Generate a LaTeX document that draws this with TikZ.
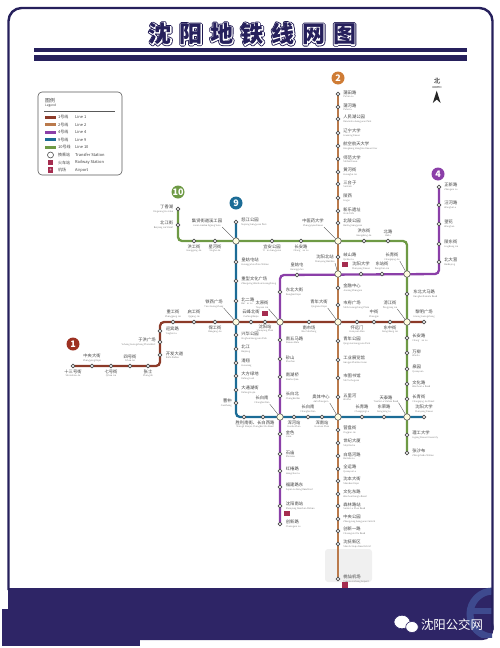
\documentclass[tikz,border=0pt]{standalone}
\usepackage{fontspec}
\usetikzlibrary{arrows.meta,positioning,backgrounds,shapes.geometric}
\setmainfont{Noto Sans CJK SC}
\newfontfamily\titlefont[LetterSpace=33.5]{Noto Sans CJK SC}
\definecolor{mapNavy}{RGB}{38,32,92}
\definecolor{mapBand}{RGB}{46,37,102}
\definecolor{mapLogo}{RGB}{62,74,142}
\definecolor{mapOne}{RGB}{140,58,40}
\definecolor{mapTwo}{RGB}{186,122,76}
\definecolor{mapFour}{RGB}{139,63,168}
\definecolor{mapNine}{RGB}{28,108,150}
\definecolor{mapTen}{RGB}{110,154,69}
\definecolor{mapIcon}{RGB}{165,45,80}
\newcommand{\stnt}[2]{#1\\[-1.5pt]{\fontsize{2.3}{2.6}\selectfont\color{black!50}#2}}
\newcommand{\ttlglyphs}[1]{\rlap{\special{pdf:code 1 Tr 3.4 w 1 j 0.12 0.1 0.32 RG}#1\special{pdf:code 0 Tr 0 G}}\rlap{\special{pdf:code 1 Tr 1.7 w 1 j 1 1 1 RG}#1\special{pdf:code 0 Tr 0 G}}#1}
\begin{document}
\begin{tikzpicture}[x=1pt,y=-1pt,
    stn/.style={draw=black!70,fill=white,circle,line width=0.6pt,inner sep=0pt,minimum size=3.8pt},
    hub/.style={draw=black!65,fill=yellow!12,circle,line width=0.6pt,inner sep=0pt,minimum size=6.5pt},
    lab/.style={inner sep=0pt,text=black!75,font=\fontsize{4.3}{5}\selectfont,align=center},
    lbr/.style={lab,align=left},
    lbl/.style={lab,align=right},
    badge/.style={circle,inner sep=0pt,minimum size=13pt,text=white,font=\fontsize{9}{9}\selectfont\bfseries},
    icon/.style={fill=mapIcon,inner sep=0pt,minimum size=5.5pt},
    swatch/.style={inner sep=0pt,minimum width=11pt,minimum height=3pt},
    leg/.style={inner sep=0pt,anchor=west,text=black!75,font=\fontsize{4}{5}\selectfont},
    feed/.style={draw=black!70,line width=0.35pt},
    metro/.style={line width=2.3pt,rounded corners=4pt}]
    \useasboundingbox (0,0) rectangle (500,648);
    % Title
    \node[inner sep=0pt,text=mapNavy,font=\titlefont\fontsize{23}{23}\selectfont\bfseries] at (252.5,34) (title) {\ttlglyphs{沈阳地铁线网图}};
    \node[fill=mapNavy,inner sep=0pt,minimum width=433pt,minimum height=4pt] at (250.5,50) (ruleA) {};
    \node[fill=mapNavy,inner sep=0pt,minimum width=433pt,minimum height=6pt] at (250.5,58) (ruleB) {};
    % Legend
    \node[draw=black!65,rounded corners=4pt,line width=0.6pt,inner sep=0pt,minimum width=84pt,minimum height=83pt] at (80,133.5) (legendBox) {};
    \node[leg,font=\fontsize{5}{6}\selectfont] at (45,100.5) (legendZh) {图例};
    \node[leg,font=\fontsize{3.2}{4}\selectfont] at (45,106) (legendEn) {Legend};
    \coordinate (ruleL) at (44,111);
    \coordinate (ruleR) at (115,111);
    \node[swatch,fill=mapOne] at (50.5,117) (swOne) {};
    \node[swatch,fill=mapTwo] at (50.5,124.5) (swTwo) {};
    \node[swatch,fill=mapFour] at (50.5,132) (swFour) {};
    \node[swatch,fill=mapNine] at (50.5,139.5) (swNine) {};
    \node[swatch,fill=mapTen] at (50.5,147) (swTen) {};
    \node[stn,minimum size=6pt] at (50.5,155) (swHub) {};
    \node[icon] at (50.5,162.5) (swRail) {};
    \node[icon] at (50.5,170) (swAir) {\textcolor{white}{\fontsize{4.5}{4}\selectfont +}};
    \node[leg] at (58,117) (zhOne) {1号线};
    \node[leg] at (58,124.5) (zhTwo) {2号线};
    \node[leg] at (58,132) (zhFour) {4号线};
    \node[leg] at (58,139.5) (zhNine) {9号线};
    \node[leg] at (58,147) (zhTen) {10号线};
    \node[leg] at (58,155) (zhHub) {换乘站};
    \node[leg] at (58,162.5) (zhRail) {火车站};
    \node[leg] at (58,170) (zhAir) {机场};
    \node[leg] at (75,117) (enOne) {Line 1};
    \node[leg] at (75,124.5) (enTwo) {Line 2};
    \node[leg] at (75,132) (enFour) {Line 4};
    \node[leg] at (75,139.5) (enNine) {Line 9};
    \node[leg] at (75,147) (enTen) {Line 10};
    \node[leg] at (75,155) (enHub) {Transfer Station};
    \node[leg] at (75,162.5) (enRail) {Railway Station};
    \node[leg] at (75,170) (enAir) {Airport};
    % North arrow
    \node[inner sep=0pt,font=\fontsize{6.5}{7}\selectfont] at (437,81) (northZh) {北};
    \node[inner sep=0pt,font=\fontsize{2.6}{3}\selectfont] at (437,87.5) (northEn) {NORTH};
    \coordinate (tipN) at (436.7,90.7);
    \coordinate (tipL) at (432.8,103);
    \coordinate (tipM) at (436.7,99.5);
    \coordinate (tipR) at (440.6,103);
    \fill[black!85] (tipN) -- (tipR) -- (tipM) -- (tipL) -- cycle;
    % Line badges
    \node[badge,fill=mapOne!85!red] at (73,344) (badgeOne) {1};
    \node[badge,fill=mapTwo!70!orange] at (338,78) (badgeTwo) {2};
    \node[badge,fill=mapFour] at (438,174) (badgeFour) {4};
    \node[badge,fill=mapNine] at (236,203) (badgeNine) {9};
    \node[badge,fill=mapTen] at (178,192) (badgeTen) {10};
    % Interchanges
    \node[hub] at (236,241) (hubA) {};
    \node[hub] at (338,241) (hubB) {};
    \node[hub] at (338,274) (hubC) {};
    \node[hub] at (407,274) (hubD) {};
    \node[hub] at (236,322) (hubE) {};
    \node[hub] at (280,322) (hubF) {};
    \node[hub] at (338,322) (hubG) {};
    \node[hub] at (407,322) (hubH) {};
    \node[hub] at (280,417) (hubI) {};
    \node[hub] at (338,417) (hubJ) {};
    \node[hub] at (407,417) (hubK) {};
    \node[lab] at (207,223) (tHubA) {\stnt{集贤街道溪工园}{Jixian Jiedao Xigong Yuan}};
    \node[lab] at (313,223) (tHubB) {\stnt{中医药大学}{Zhongyiyao Daxue}};
    \node[lab] at (325,259) (tHubC) {\stnt{沈阳北站}{Shenyang Beizhan}};
    \node[lab] at (392,257) (tHubD) {\stnt{长青街}{Changqing Jie}};
    \node[lab] at (214,304) (tHubE) {\stnt{铁西广场}{Tiexi Guangchang}};
    \node[lab] at (262,305) (tHubF) {\stnt{太原街}{Taiyuan Jie}};
    \node[lab] at (319,304) (tHubG) {\stnt{青年大街}{Qingnian Dajie}};
    \node[lab] at (390,305) (tHubH) {\stnt{滂江街}{Pangjiang Jie}};
    \node[lab] at (262,400) (tHubI) {\stnt{长白南}{Changbai Nan}};
    \node[lab] at (321,399) (tHubJ) {\stnt{奥体中心}{Aoti Zhongxin}};
    \node[lab] at (386,399) (tHubK) {\stnt{天泰路}{Tiantai Lu Station Road}};
    \draw[feed] (tHubA.south east) -- (hubA);
    \draw[feed] (tHubB.south east) -- (hubB);
    \draw[feed] (tHubC.south east) -- (hubC);
    \draw[feed] (tHubD.south east) -- (hubD);
    \draw[feed] (tHubE.south east) -- (hubE);
    \draw[feed] (tHubF.south east) -- (hubF);
    \draw[feed] (tHubG.south east) -- (hubG);
    \draw[feed] (tHubH.south east) -- (hubH);
    \draw[feed] (tHubI.south east) -- (hubI);
    \draw[feed] (tHubJ.south east) -- (hubJ);
    \draw[feed] (tHubK.south east) -- (hubK);
    % Line 1
    \node[stn] at (73,366) (oneA) {}; \node[lab,below=1pt of oneA] (tOneA) {\stnt{十三号街}{Shisanhao Jie}};
    \node[stn] at (92,366) (oneB) {}; \node[lab,above=2pt of oneB] (tOneB) {\stnt{中央大街}{Zhongyang Dajie}};
    \node[stn] at (111,366) (oneC) {}; \node[lab,below=1pt of oneC] (tOneC) {\stnt{七号街}{Qihao Jie}};
    \node[stn] at (130,366) (oneD) {}; \node[lab,above=2pt of oneD] (tOneD) {\stnt{四号街}{Sihao Jie}};
    \node[stn] at (148,366) (oneE) {}; \node[lab,below=1pt of oneE] (tOneE) {\stnt{张士}{Zhangshi}};
    \node[stn] at (160,355) (oneF) {}; \node[lbr,right=3.5pt of oneF] (tOneF) {\stnt{开发大道}{Kaifa Dadao}};
    \node[stn] at (160,342) (oneG) {}; \node[lbl,left=2pt of oneG] (tOneG) {\stnt{于洪广场}{Yuhong Guangchang Plaza West}};
    \node[stn] at (160,331) (oneH) {}; \node[lbr,right=3.5pt of oneH] (tOneH) {\stnt{迎宾路}{Yingbin Lu}};
    \node[stn] at (173,322) (oneI) {}; \node[lab,above=2pt of oneI] (tOneI) {\stnt{重工街}{Zhonggong Jie}};
    \node[stn] at (194,322) (oneJ) {}; \node[lab,above=2pt of oneJ] (tOneJ) {\stnt{启工街}{Qigong Jie}};
    \node[stn] at (215,322) (oneK) {}; \node[lab,below=1pt of oneK] (tOneK) {\stnt{保工街}{Baogong Jie}};
    \node[stn] at (251,322) (oneL) {}; \node[lab,above=2pt of oneL] (tOneL) {\stnt{云峰北街}{Yunfeng Beijie}};
    \node[stn] at (265,322) (oneM) {}; \node[lab,below=0pt of oneM] (tOneM) {\stnt{沈阳站}{Shenyang Zhan}};
    \node[icon,above=3.5pt of oneM] (railOne) {};
    \node[stn] at (309,322) (oneN) {}; \node[lab,below=1pt of oneN] (tOneN) {\stnt{南市场}{Nan Shichang}};
    \node[stn] at (357,322) (oneO) {}; \node[lab,below=1pt of oneO] (tOneO) {\stnt{怀远门}{Huaiyuan Men}};
    \node[stn] at (374,322) (oneP) {}; \node[lab,above=2pt of oneP] (tOneP) {\stnt{中街}{Zhongjie}};
    \node[stn] at (390,322) (oneQ) {}; \node[lab,below=1pt of oneQ] (tOneQ) {\stnt{东中街}{Dongzhong Jie}};
    \node[stn] at (424,322) (oneR) {}; \node[lab,above=2pt of oneR] (tOneR) {\stnt{黎明广场}{Liming Guangchang}};
    \coordinate (oneBendA) at (160,366);
    \coordinate (oneBendB) at (160,322);
    % Line 2
    \node[stn] at (338,94) (twoA) {}; \node[lbr,right=3pt of twoA] (tTwoA) {\stnt{蒲田路}{Putian Lu}};
    \node[stn] at (338,107) (twoB) {}; \node[lbr,right=3pt of twoB] (tTwoB) {\stnt{蒲河路}{Puhe Lu}};
    \node[stn] at (338,119) (twoC) {}; \node[lbr,right=3pt of twoC] (tTwoC) {\stnt{人民湖公园}{Renminhu Gongyuan Park}};
    \node[stn] at (338,133) (twoD) {}; \node[lbr,right=3pt of twoD] (tTwoD) {\stnt{辽宁大学}{Liaoning Daxue}};
    \node[stn] at (338,146) (twoE) {}; \node[lbr,right=3pt of twoE] (tTwoE) {\stnt{航空航天大学}{Hangkong Hangtian Daxue Univ}};
    \node[stn] at (338,159) (twoF) {}; \node[lbr,right=3pt of twoF] (tTwoF) {\stnt{师范大学}{Shifan Daxue}};
    \node[stn] at (338,172) (twoG) {}; \node[lbr,right=3pt of twoG] (tTwoG) {\stnt{黄河街}{Huanghe Jie}};
    \node[stn] at (338,184) (twoH) {}; \node[lbr,right=3pt of twoH] (tTwoH) {\stnt{三台子}{Santaizi}};
    \node[stn] at (338,198) (twoI) {}; \node[lbr,right=3pt of twoI] (tTwoI) {\stnt{陵西}{Lingxi}};
    \node[stn] at (338,211) (twoJ) {}; \node[lbr,right=3pt of twoJ] (tTwoJ) {\stnt{新乐遗址}{Xinle Yizhi}};
    \node[stn] at (338,223) (twoK) {}; \node[lbr,right=3pt of twoK] (tTwoK) {\stnt{北陵公园}{Beiling Gongyuan}};
    \node[stn] at (338,257) (twoL) {}; \node[lbr,right=3pt of twoL] (tTwoL) {\stnt{岐山路}{Qishan Lu}};
    \node[icon,below right=3pt and 2.5pt of twoL] (railTwo) {};
    \node[stn] at (338,288) (twoM) {}; \node[lbr,right=3pt of twoM] (tTwoM) {\stnt{金融中心}{Jinrong Zhongxin}};
    \node[stn] at (338,305) (twoN) {}; \node[lbr,right=3pt of twoN] (tTwoN) {\stnt{市府广场}{Shifu Guangchang Plaza}};
    \node[stn] at (338,341) (twoO) {}; \node[lbr,right=3pt of twoO] (tTwoO) {\stnt{青年公园}{Qingnian Gongyuan Park}};
    \node[stn] at (338,360) (twoP) {}; \node[lbr,right=3pt of twoP] (tTwoP) {\stnt{工业展览馆}{Gongye Zhanlan Guan}};
    \node[stn] at (338,378) (twoQ) {}; \node[lbr,right=3pt of twoQ] (tTwoQ) {\stnt{市图书馆}{Shi Tushuguan}};
    \node[stn] at (338,397) (twoR) {}; \node[lbr,right=3pt of twoR] (tTwoR) {\stnt{五里河}{Wulihe}};
    \node[stn] at (338,430) (twoS) {}; \node[lbr,right=3pt of twoS] (tTwoS) {\stnt{营盘街}{Yingpan Jie}};
    \node[stn] at (338,443) (twoT) {}; \node[lbr,right=3pt of twoT] (tTwoT) {\stnt{世纪大厦}{Shiji Dasha}};
    \node[stn] at (338,456) (twoU) {}; \node[lbr,right=3pt of twoU] (tTwoU) {\stnt{白塔河路}{Baitahe Lu}};
    \node[stn] at (338,469) (twoV) {}; \node[lbr,right=3pt of twoV] (tTwoV) {\stnt{全运路}{Quanyun Lu}};
    \node[stn] at (338,481) (twoW) {}; \node[lbr,right=3pt of twoW] (tTwoW) {\stnt{沈本大街}{Shenben Dajie}};
    \node[stn] at (338,494) (twoX) {}; \node[lbr,right=3pt of twoX] (tTwoX) {\stnt{文化东路}{Wenhua Donglu Road}};
    \node[stn] at (338,506) (twoY) {}; \node[lbr,right=3pt of twoY] (tTwoY) {\stnt{森林路站}{Senlin Lu Zhan Road}};
    \node[stn] at (338,519) (twoZ) {}; \node[lbr,right=3pt of twoZ] (tTwoZ) {\stnt{中央公园}{Zhongyang Gongyuan Central}};
    \node[stn] at (338,531) (twoAA) {}; \node[lbr,right=3pt of twoAA] (tTwoAA) {\stnt{创新一路}{Chuangxin Yilu Road}};
    \node[stn] at (338,544) (twoAB) {}; \node[lbr,right=3pt of twoAB] (tTwoAB) {\stnt{沈抚新区}{Shenfu Xinqu New District}};
    \node[stn] at (338,579) (twoAC) {}; \node[lbr,right=3pt of twoAC] (tTwoAC) {\stnt{桃仙机场}{Taoxian Jichang Airport}};
    \node[icon,below right=1.5pt and 2.5pt of twoAC] (airTwo) {};
    % Line 4
    \node[stn] at (439,187) (fourA) {}; \node[lbr,right=3pt of fourA] (tFourA) {\stnt{正新路}{Zhengxin Lu}};
    \node[stn] at (439,205) (fourB) {}; \node[lbr,right=3pt of fourB] (tFourB) {\stnt{汪河路}{Wanghe Lu}};
    \node[stn] at (439,224) (fourC) {}; \node[lbr,right=3pt of fourC] (tFourC) {\stnt{望花}{Wanghua}};
    \node[stn] at (439,244) (fourD) {}; \node[lbr,right=3pt of fourD] (tFourD) {\stnt{陵东街}{Lingdong Jie}};
    \node[stn] at (439,262) (fourE) {}; \node[lbr,right=3pt of fourE] (tFourE) {\stnt{北大营}{Beidaying}};
    \node[stn] at (382,274) (fourF) {}; \node[lab,above=2pt of fourF] (tFourF) {\stnt{东站街}{Dongzhan Jie}};
    \node[stn] at (361,274) (fourG) {}; \node[lab,above=2pt of fourG] (tFourG) {\stnt{沈阳大学}{Shenyang Daxue}};
    \node[stn] at (297,275) (fourH) {}; \node[lab,above=2pt of fourH] (tFourH) {\stnt{皇姑屯}{Huanggutun}};
    \node[stn] at (280,292) (fourI) {}; \node[lbr,right=3.5pt of fourI] (tFourI) {\stnt{东北大街}{Dongbei Dajie}};
    \node[stn] at (280,340) (fourJ) {}; \node[lbr,right=3.5pt of fourJ] (tFourJ) {\stnt{南五马路}{Nanwu Malu}};
    \node[stn] at (280,359) (fourK) {}; \node[lbr,right=3.5pt of fourK] (tFourK) {\stnt{砂山}{Shashan}};
    \node[stn] at (280,377) (fourL) {}; \node[lbr,right=3.5pt of fourL] (tFourL) {\stnt{南湖桥}{Nanhu Qiao}};
    \node[stn] at (280,396) (fourM) {}; \node[lbr,right=3.5pt of fourM] (tFourM) {\stnt{长白北}{Changbai Bei}};
    \node[stn] at (280,434) (fourN) {}; \node[lbr,right=3.5pt of fourN] (tFourN) {\stnt{金色}{Jinse}};
    \node[stn] at (280,454) (fourO) {}; \node[lbr,right=3.5pt of fourO] (tFourO) {\stnt{石庙}{Shimiao}};
    \node[stn] at (280,471) (fourP) {}; \node[lbr,right=3.5pt of fourP] (tFourP) {\stnt{红椿路}{Hongchun Lu}};
    \node[stn] at (280,487) (fourQ) {}; \node[lbr,right=3.5pt of fourQ] (tFourQ) {\stnt{福建路东}{Fujian Lu Dong Road East}};
    \node[stn] at (280,506) (fourR) {}; \node[lbr,right=3.5pt of fourR] (tFourR) {\stnt{沈阳南站}{Shenyang Nanzhan Station}};
    \node[icon,below right=3pt and 2.5pt of fourR] (railFour) {};
    \node[stn] at (280,524) (fourS) {}; \node[lbr,right=3.5pt of fourS] (tFourS) {\stnt{创新路}{Chuangxin Lu}};
    \coordinate (fourBendA) at (439,274);
    \coordinate (fourBendB) at (280,275);
    % Line 9
    \node[stn] at (236,222) (nineA) {}; \node[lbr,right=3pt of nineA] (tNineA) {\stnt{怒江公园}{Nujiang Gongyuan Park}};
    \node[stn] at (236,262) (nineB) {}; \node[lbr,right=3pt of nineB] (tNineB) {\stnt{皇姑屯站}{Huanggutun Zhan Station}};
    \node[stn] at (236,281) (nineC) {}; \node[lbr,right=3pt of nineC] (tNineC) {\stnt{重型文化广场}{Zhongxing Wenhua Guangchang}};
    \node[stn] at (236,301) (nineD) {}; \node[lbr,right=3pt of nineD] (tNineD) {\stnt{北二路}{Bei'er Lu}};
    \node[stn] at (236,335) (nineE) {}; \node[lbr,right=3pt of nineE,yshift=-1pt] (tNineE) {\stnt{兴华公园}{Xinghua Gongyuan Park}};
    \node[stn] at (236,349) (nineF) {}; \node[lbr,right=3pt of nineF] (tNineF) {\stnt{北江}{Beijiang}};
    \node[stn] at (236,363) (nineG) {}; \node[lbr,right=3pt of nineG] (tNineG) {\stnt{滑翔}{Huaxiang}};
    \node[stn] at (236,376) (nineH) {}; \node[lbr,right=3pt of nineH] (tNineH) {\stnt{大方绿地}{Dafang Ludi}};
    \node[stn] at (236,390) (nineI) {}; \node[lbr,right=3pt of nineI] (tNineI) {\stnt{大通湖街}{Datong Hujie}};
    \node[stn] at (236,403) (nineJ) {}; \node[lbl,left=2pt of nineJ] (tNineJ) {\stnt{曹仲}{Caozhong}};
    \node[stn] at (244,417) (nineK) {};
    \node[stn] at (263,417) (nineL) {};
    \node[lab] at (255,424.5) (tNineKL) {\stnt{胜利南街、长白西路}{Shengli Nanjie, Changbai Xilu Road}};
    \node[stn] at (294,417) (nineM) {}; \node[lab,below=1pt of nineM] (tNineM) {\stnt{浑河站}{Hunhe Zhan}};
    \node[stn] at (308,417) (nineN) {}; \node[lab,above=2pt of nineN] (tNineN) {\stnt{长白南}{Changbai Nan}};
    \node[stn] at (322,417) (nineO) {}; \node[lab,below=1pt of nineO] (tNineO) {\stnt{浑南站}{Hunnan Zhan}};
    \node[stn] at (362,417) (nineP) {}; \node[lab,above=2pt of nineP] (tNineP) {\stnt{长青路}{Changqing Lu}};
    \node[stn] at (384,417) (nineQ) {}; \node[lab,above=2pt of nineQ] (tNineQ) {\stnt{东荣路}{Dongrong Lu}};
    \node[stn] at (424,417) (nineR) {}; \node[lab,above=2pt of nineR] (tNineR) {\stnt{沈阳大学}{Shenyang Daxue}};
    \coordinate (nineBend) at (236,417);
    % Line 10
    \node[stn] at (178,209) (tenA) {}; \node[lbl,left=2.5pt of tenA] (tTenA) {\stnt{丁香湖}{Dingxiang Hu Lake}};
    \node[stn] at (178,225) (tenB) {}; \node[lbl,left=2.5pt of tenB] (tTenB) {\stnt{北江街}{Beijiang Jie Street}};
    \node[stn] at (194,241) (tenC) {}; \node[lab,below=1pt of tenC] (tTenC) {\stnt{洪工街}{Honggong Jie}};
    \node[stn] at (215,241) (tenD) {}; \node[lab,below=1pt of tenD] (tTenD) {\stnt{星河街}{Xinghe Jie}};
    \node[stn] at (272,241) (tenE) {}; \node[lab,below=1pt of tenE] (tTenE) {\stnt{宜安公园}{Yi'an Gongyuan}};
    \node[stn] at (301,241) (tenF) {}; \node[lab,below=1pt of tenF] (tTenF) {\stnt{长安路}{Chang'an Lu}};
    \node[stn] at (364,241) (tenG) {}; \node[lab,above=2pt of tenG] (tTenG) {\stnt{洪东街}{Hongdong Jie}};
    \node[stn] at (388,241) (tenH) {}; \node[lab,above=2pt of tenH] (tTenH) {\stnt{北路}{Beilu}};
    \node[stn] at (407,294) (tenI) {}; \node[lbr,right=4pt of tenI] (tTenI) {\stnt{东北大马路}{Dongbei Damalu Road}};
    \node[stn] at (407,338) (tenJ) {}; \node[lbr,right=3pt of tenJ] (tTenJ) {\stnt{长安路}{Chang'an Lu}};
    \node[stn] at (407,353) (tenK) {}; \node[lbr,right=3pt of tenK] (tTenK) {\stnt{万柳}{Wanliu}};
    \node[stn] at (407,369) (tenL) {}; \node[lbr,right=3pt of tenL] (tTenL) {\stnt{泉园}{Quanyuan}};
    \node[stn] at (407,384) (tenM) {}; \node[lbr,right=3pt of tenM] (tTenM) {\stnt{文化路}{Wenhua Lu Road}};
    \node[stn] at (407,399) (tenN) {}; \node[lbr,right=3pt of tenN] (tTenN) {\stnt{长青街}{Changqing Jie Street}};
    \node[stn] at (407,435) (tenO) {}; \node[lbr,right=3pt of tenO] (tTenO) {\stnt{理工大学}{Ligong Daxue University}};
    \node[stn] at (407,453) (tenP) {}; \node[lbr,right=3pt of tenP] (tTenP) {\stnt{张沙布}{Zhangshabu Station}};
    \coordinate (tenBendA) at (178,241);
    \coordinate (tenBendB) at (407,241);
    % Bottom band marks
    \node[inner sep=0pt,text=white,font=\fontsize{12.4}{13}\selectfont] at (452,625) (wxName) {沈阳公交网};
    \node[ellipse,fill=white,draw=mapBand,line width=0.6pt,inner sep=0pt,minimum width=16pt,minimum height=13.5pt] at (402,622) (wxBig) {};
    \node[ellipse,fill=white,draw=mapBand,line width=0.6pt,inner sep=0pt,minimum width=12.5pt,minimum height=11pt] at (412,627) (wxSmall) {};
    % Frame and lines behind the nodes
    \begin{scope}[on background layer]
        \fill[mapBand] (7.5,587.5) rectangle (493,628);
        \fill[mapBand] (2,609) rectangle (140,646);
        \fill[mapBand,rounded corners=11pt] (100,615) rectangle (493.5,640);
        \begin{scope}
            \clip (462,587.5) rectangle (492,637);
            \draw[mapLogo,line width=7pt] (493,614) circle (23pt);
            \fill[mapLogo] (470,608) rectangle (493,614);
        \end{scope}
        \draw[mapNavy,line width=2.4pt,rounded corners=13pt] (8.5,590) -- (8.5,8) -- (492.5,8) -- (492.5,630);
        \fill[black!6,rounded corners=3pt] (325,549) rectangle (372,582);
        \draw[metro,mapTen] (tenA.center) -- (tenBendA) -- (tenBendB) -- (hubK.center) -- (tenP.center);
        \draw[metro,mapTwo] (twoA.center) -- (twoAC.center);
        \draw[metro,mapFour] (fourA.center) -- (fourBendA) -- (fourBendB) -- (fourS.center);
        \draw[metro,mapNine] (nineA.center) -- (nineBend) -- (nineR.center);
        \draw[metro,mapOne] (oneA.center) -- (oneBendA) -- (oneBendB) -- (oneR.center);
    \end{scope}
    \draw[black!65,line width=0.5pt] (ruleL) -- (ruleR);
\end{tikzpicture}
\end{document}
